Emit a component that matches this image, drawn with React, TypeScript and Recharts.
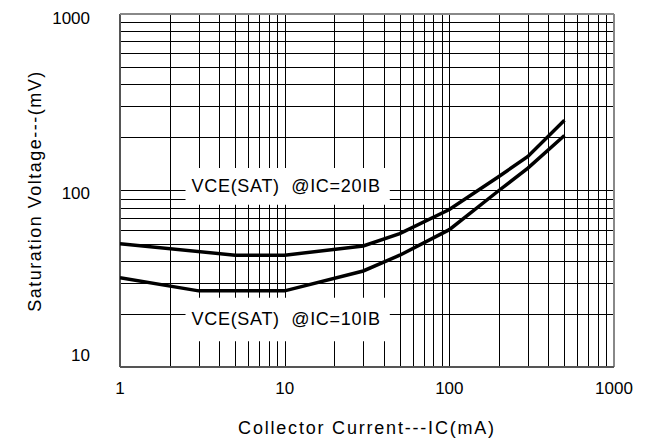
import React from 'react';
import { LineChart, Line, XAxis, YAxis, CartesianGrid, ReferenceLine, ReferenceArea } from 'recharts';

// collector current (mA) / saturation voltage (mV)
const ic20 = [1, 5, 10, 30, 50, 100, 200, 300, 500];
const vce20 = [50, 43, 43, 48.5, 57, 78, 120, 156, 250];
const ic10 = [1, 3, 10, 30, 50, 100, 200, 300, 500];
const vce10 = [32, 27, 27, 35, 43, 60, 100, 134, 205];

const xTicks = [1, 10, 100, 1000];
const yTicks = [10, 100, 1000];
const xGrid = [2, 3, 4, 5, 6, 7, 8, 9, 10, 20, 30, 40, 50, 60, 70, 80, 90, 100, 200, 300, 400, 500, 600, 700, 800, 900];
const yGrid = [20, 30, 40, 50, 60, 70, 80, 90, 100, 200, 300, 400, 500, 600, 700, 800, 900];

const label20 = 'VCE(SAT)\u00A0 @IC=20IB';
const label10 = 'VCE(SAT)\u00A0 @IC=10IB';

const FONT = '"Liberation Sans", Arial, sans-serif';

const data20 = ic20.map((ic, i) => ({ ic, v: vce20[i] }));
const data10 = ic10.map((ic, i) => ({ ic, v: vce10[i] }));

const yNudge: Record<number, number> = { 1000: 10, 100: 8, 10: -6 };

function YTick(props: any) {
  const { x, y, payload } = props;
  return (
    <text x={x} y={y + (yNudge[payload.value] ?? 6)} textAnchor="end" fontSize={17} fontFamily={FONT} fill="#000">
      {payload.value}
    </text>
  );
}

function BoxLabel(props: any) {
  const { viewBox, value } = props;
  return (
    <text
      x={viewBox.x + 6}
      y={viewBox.y + viewBox.height / 2 + 6}
      fontSize={18}
      letterSpacing={0.7}
      fontFamily={FONT}
      fill="#000"
    >
      {value}
    </text>
  );
}

function YTitle() {
  return (
    <text
      x={35}
      y={191}
      transform="rotate(-90, 35, 191)"
      textAnchor="middle"
      dominantBaseline="central"
      fontSize={18}
      letterSpacing={1.5}
      fontFamily={FONT}
      fill="#000"
    >
      Saturation Voltage---(mV)
    </text>
  );
}

const scaleOf = (axis: any) => {
  const s = axis?.scale;
  return typeof s === 'function' ? s : s?.map ?? ((v: number) => v);
};

export default function App() {
  return (
    <div style={{ position: 'absolute', left: 0, top: 0, background: '#fff' }}>
      <LineChart width={651} height={445} margin={{ top: 14, right: 37, left: 0, bottom: 0 }}>
        <CartesianGrid
          horizontalCoordinatesGenerator={({ yAxis }: any) => yGrid.map((v) => Math.round(scaleOf(yAxis)(v)) + 0.5)}
          verticalCoordinatesGenerator={({ xAxis }: any) => xGrid.map((v) => Math.round(scaleOf(xAxis)(v)) + 0.5)}
          stroke="#000"
          strokeWidth={1}
        />
        <XAxis
          dataKey="ic"
          type="number"
          scale="log"
          domain={[1, 1000]}
          ticks={xTicks}
          allowDataOverflow
          axisLine={false}
          tickLine={false}
          tickSize={0}
          tickMargin={15}
          height={78}
          tick={{ fontSize: 17, fontFamily: FONT, fill: '#000' }}
          label={{ value: 'Collector Current---IC(mA)', position: 'insideBottom', offset: 11, fontSize: 18, letterSpacing: 1.8, fontFamily: FONT, fill: '#000' }}
        />
        <YAxis
          dataKey="v"
          type="number"
          scale="log"
          domain={[10, 1000]}
          ticks={yTicks}
          allowDataOverflow
          axisLine={false}
          tickLine={false}
          tickSize={0}
          tickMargin={30}
          width={120}
          tick={<YTick />}
          label={<YTitle />}
        />
        <ReferenceLine x={1} stroke="#555" strokeWidth={2} />
        <ReferenceLine x={1000} stroke="#888" strokeWidth={2} />
        <ReferenceLine y={10} stroke="#555" strokeWidth={2} />
        <ReferenceLine y={1000} stroke="#888" strokeWidth={2} />
        <ReferenceArea x1={2.5} x2={43.5} y1={83} y2={134} fill="#fff" fillOpacity={1} stroke="none" label={<BoxLabel value={label20} />} />
        <ReferenceArea x1={2.5} x2={43.5} y1={14} y2={24.7} fill="#fff" fillOpacity={1} stroke="none" label={<BoxLabel value={label10} />} />
        <Line data={data20} dataKey="v" type="linear" stroke="#000" strokeWidth={3.5} dot={false} isAnimationActive={false} />
        <Line data={data10} dataKey="v" type="linear" stroke="#000" strokeWidth={3.5} dot={false} isAnimationActive={false} />
      </LineChart>
    </div>
  );
}
